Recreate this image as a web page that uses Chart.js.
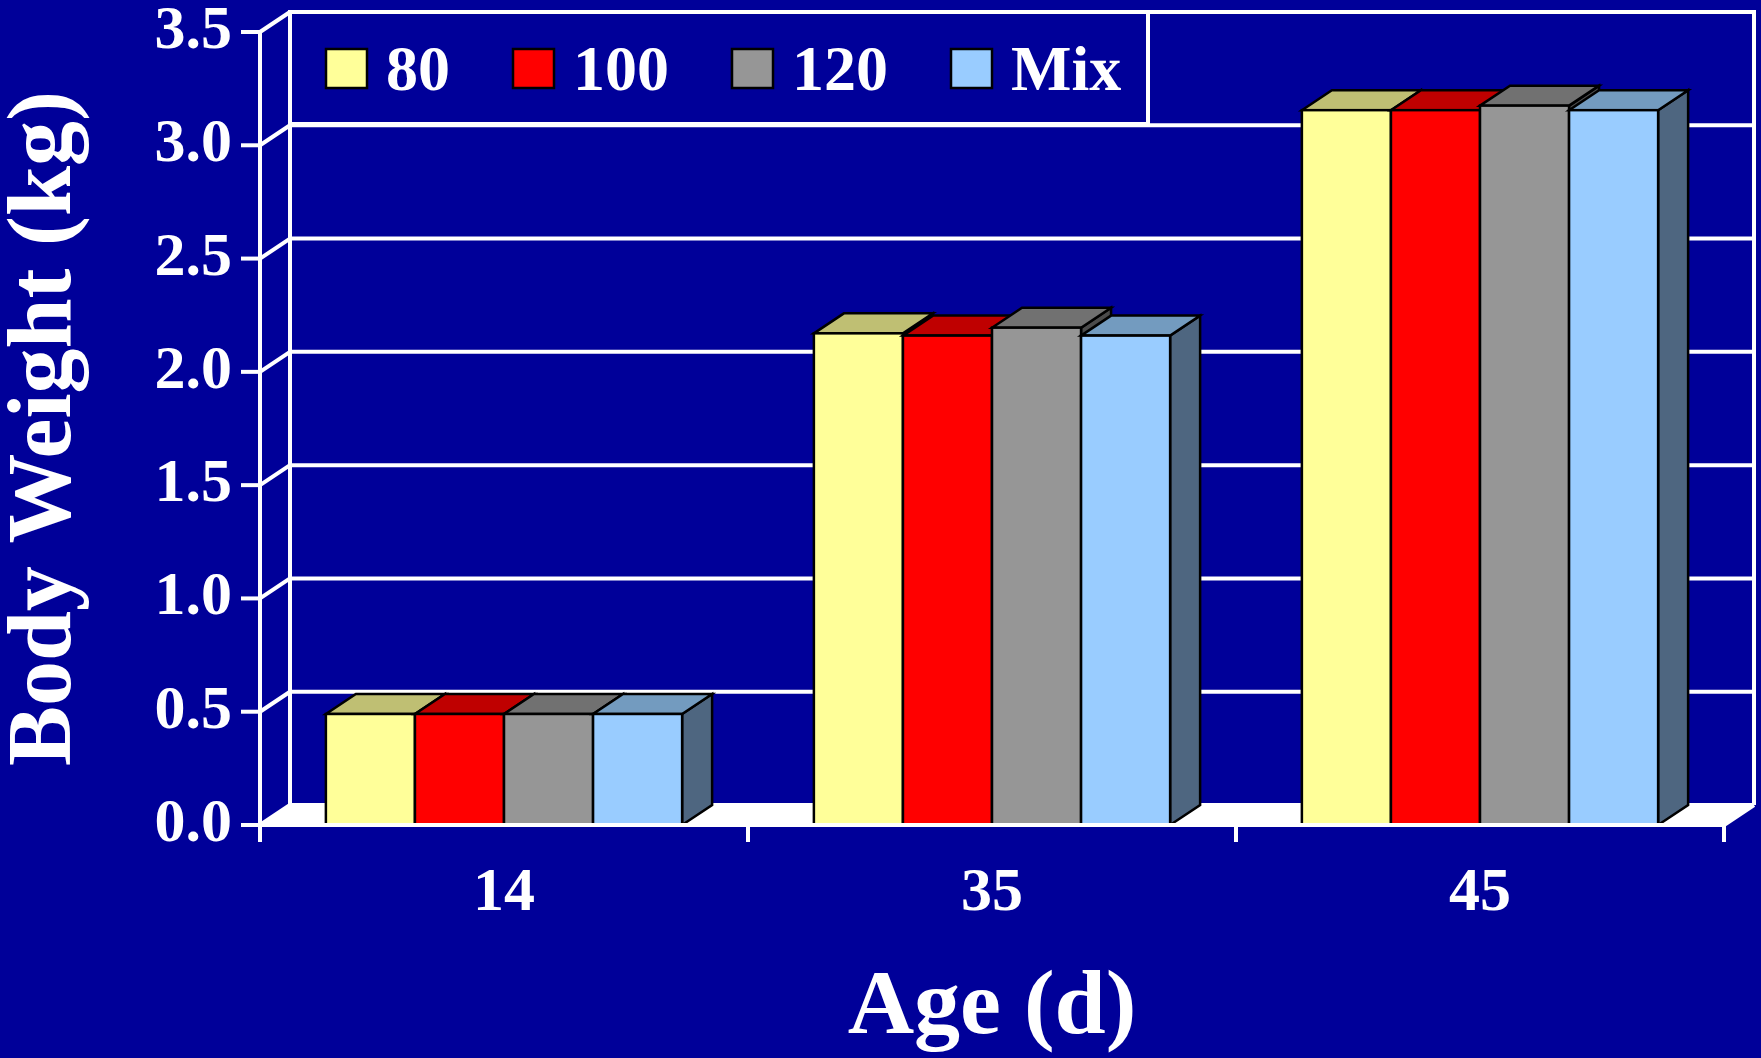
<!DOCTYPE html>
<html>
<head>
<meta charset="utf-8">
<script src="https://cdn.jsdelivr.net/npm/chart.js@4.4.1/dist/chart.umd.min.js"></script>
<style>
html,body{margin:0;padding:0;background:#000099;}
canvas{display:block;}
#fontprobe{position:absolute;left:-9999px;top:0;font-family:'Liberation Serif';font-weight:bold;font-size:40px;}
</style>
</head>
<body>
<div id="fontprobe">Body Weight (kg) Age 0123456789 Mix</div>
<canvas id="c" width="1761" height="1058"></canvas>
<script>
// ---- data ----
const categories = ['14', '35', '45'];
const seriesNames = ['80', '100', '120', 'Mix'];
const values80  = [0.49, 2.17, 3.155];
const values100 = [0.49, 2.16, 3.155];
const values120 = [0.49, 2.195, 3.175];
const valuesMix = [0.49, 2.16, 3.155];
const yTicks = [0, 0.5, 1.0, 1.5, 2.0, 2.5, 3.0, 3.5];
const xTitle = 'Age (d)';
const yTitle = 'Body Weight (kg)';

// ---- styles ----
const BG = '#000099';
const FONT = "'Liberation Serif', 'Times New Roman', Times, serif";
const frontColors = ['#FFFF99', '#FF0000', '#969696', '#99CCFF'];
const topColors   = ['#BFBF73', '#BF0000', '#717171', '#739BBF'];
const sideColors  = ['#8C8C55', '#800000', '#4B4B4B', '#4E6680'];
const DX = 30, DY = -20;

const seriesValues = [values80, values100, values120, valuesMix];

function poly(ctx, pts) {
  ctx.beginPath();
  ctx.moveTo(pts[0][0], pts[0][1]);
  for (let i = 1; i < pts.length; i++) ctx.lineTo(pts[i][0], pts[i][1]);
  ctx.closePath();
}
function line(ctx, x1, y1, x2, y2) {
  ctx.beginPath(); ctx.moveTo(x1, y1); ctx.lineTo(x2, y2); ctx.stroke();
}

const threeD = {
  id: 'threeD',
  beforeDraw(chart) {
    const ctx = chart.ctx;
    ctx.save();
    ctx.fillStyle = BG;
    ctx.fillRect(0, 0, chart.width, chart.height);
    ctx.restore();
  },
  beforeDatasetsDraw(chart) {
    const {ctx, chartArea: ca, scales: {x, y}} = chart;
    const y0 = y.getPixelForValue(0);
    const yTop = y.getPixelForValue(yTicks[yTicks.length - 1]);
    ctx.save();
    // floor
    ctx.fillStyle = '#FFFFFF';
    poly(ctx, [[ca.left, y0], [ca.right, y0], [ca.right + DX, y0 + DY], [ca.left + DX, y0 + DY]]);
    ctx.fill();
    ctx.strokeStyle = '#FFFFFF';
    ctx.lineWidth = 4;
    ctx.lineCap = 'butt';
    // back wall gridlines
    yTicks.forEach(v => {
      const yy = y.getPixelForValue(v) + DY;
      line(ctx, ca.left + DX, yy, ca.right + DX, yy);
    });
    // back wall verticals
    line(ctx, ca.left + DX, yTop + DY - 2, ca.left + DX, y0 + DY);
    line(ctx, ca.right + DX, yTop + DY - 2, ca.right + DX, y0 + DY);
    // left wall diagonals
    yTicks.forEach(v => {
      const yy = y.getPixelForValue(v);
      line(ctx, ca.left, yy, ca.left + DX, yy + DY);
    });
    // floor right edge
    line(ctx, ca.right, y0, ca.right + DX, y0 + DY);

    // legend box
    const lx = ca.left + DX, ly = yTop + DY;
    const lw = 858, lh = 112;
    ctx.fillStyle = BG;
    ctx.fillRect(lx, ly, lw, lh);
    ctx.strokeRect(lx, ly, lw, lh);
    ctx.font = 'bold 64px ' + FONT;
    ctx.textBaseline = 'alphabetic';
    ctx.textAlign = 'left';
    let cx = lx + 36;
    chart.data.datasets.forEach((ds, i) => {
      ctx.fillStyle = ds.backgroundColor;
      ctx.fillRect(cx, ly + 37, 41, 39);
      ctx.lineWidth = 2.5;
      ctx.strokeStyle = '#000000';
      ctx.strokeRect(cx, ly + 37, 41, 39);
      ctx.fillStyle = '#FFFFFF';
      ctx.fillText(ds.label, cx + 60, ly + 78);
      cx += 60 + ctx.measureText(ds.label).width + 63;
    });
    ctx.restore();
  },
  afterDatasetsDraw(chart) {
    const {ctx, chartArea: ca, scales: {x, y}} = chart;
    const y0 = y.getPixelForValue(0);
    const yTop = y.getPixelForValue(yTicks[yTicks.length - 1]);
    ctx.save();
    ctx.lineJoin = 'miter';
    ctx.strokeStyle = '#000000';
    ctx.lineWidth = 2.5;
    const nSets = chart.data.datasets.length;
    categories.forEach((c, ci) => {
      for (let di = 0; di < nSets; di++) {
        const bar = chart.getDatasetMeta(di).data[ci];
        const {x: bx, y: by, base, width} = bar.getProps(['x', 'y', 'base', 'width'], true);
        const l = bx - width / 2, r = bx + width / 2;
        // side face
        ctx.fillStyle = sideColors[di];
        poly(ctx, [[r, by], [r + DX, by + DY], [r + DX, base + DY], [r, base]]);
        ctx.fill(); ctx.stroke();
        // top face
        ctx.fillStyle = topColors[di];
        poly(ctx, [[l, by], [l + DX, by + DY], [r + DX, by + DY], [r, by]]);
        ctx.fill(); ctx.stroke();
        // front face
        ctx.fillStyle = frontColors[di];
        ctx.fillRect(l, by, width, base - by);
        ctx.strokeRect(l, by, width, base - by);
      }
    });
    // front axes
    ctx.strokeStyle = '#FFFFFF';
    ctx.lineWidth = 4;
    line(ctx, ca.left, y0, ca.right, y0);
    line(ctx, ca.left, yTop, ca.left, y0 + 17);
    yTicks.forEach(v => {
      const yy = y.getPixelForValue(v);
      line(ctx, ca.left - 19, yy, ca.left, yy);
    });
    for (let i = 0; i <= categories.length; i++) {
      const xx = x.getPixelForValue(i - 0.5);
      line(ctx, xx, y0, xx, y0 + 17);
    }
    ctx.restore();
  }
};

function build() {
  const datasets = seriesNames.map((name, i) => ({
    label: name,
    data: seriesValues[i],
    backgroundColor: frontColors[i],
    borderColor: '#000000',
    borderWidth: 2,
    borderSkipped: false,
    barPercentage: 1.0,
    categoryPercentage: 0.73
  }));

  Chart.defaults.color = '#FFFFFF';

  new Chart(document.getElementById('c'), {
    type: 'bar',
    data: { labels: categories, datasets },
    plugins: [threeD],
    options: {
      responsive: false,
      devicePixelRatio: 1,
      animation: false,
      layout: { padding: { top: 32, right: 37, left: 0, bottom: 0 } },
      plugins: { legend: { display: false }, tooltip: { enabled: false } },
      scales: {
        x: {
          type: 'category',
          grid: { display: false, drawTicks: false },
          border: { display: false },
          ticks: {
            color: '#FFFFFF',
            padding: 38,
            font: { family: FONT, weight: 'bold', size: 62, lineHeight: 1 }
          },
          title: {
            display: true, text: xTitle, color: '#FFFFFF',
            padding: { top: 0, bottom: 3 },
            font: { family: FONT, weight: 'bold', size: 92, lineHeight: 1 }
          },
          afterFit(scale) {
            scale.height = 233;
            scale.paddingLeft = 0; scale.paddingRight = 0;
            scale.paddingTop = 0; scale.paddingBottom = 0;
          }
        },
        y: {
          min: 0, max: 3.5,
          grid: { display: false, drawTicks: false },
          border: { display: false },
          ticks: {
            stepSize: 0.5,
            color: '#FFFFFF',
            padding: 28,
            font: { family: FONT, weight: 'bold', size: 62, lineHeight: 1 },
            callback: v => Number(v).toFixed(1)
          },
          title: {
            display: true, text: yTitle, color: '#FFFFFF',
            padding: { top: 2, bottom: 0 },
            font: { family: FONT, weight: 'bold', size: 90, lineHeight: 1 }
          },
          afterFit(scale) {
            scale.width = 260;
            scale.paddingTop = 0; scale.paddingBottom = 0;
            scale.paddingLeft = 0; scale.paddingRight = 0;
          }
        }
      }
    }
  });
}

let built = false;
function go() { if (!built) { built = true; build(); } }
if (document.fonts && document.fonts.load) {
  Promise.all([
    document.fonts.load('bold 62px "Liberation Serif"'),
    document.fonts.load('bold 90px "Liberation Serif"')
  ]).then(go, go);
  setTimeout(go, 1500);
} else {
  go();
}
</script>
</body>
</html>
